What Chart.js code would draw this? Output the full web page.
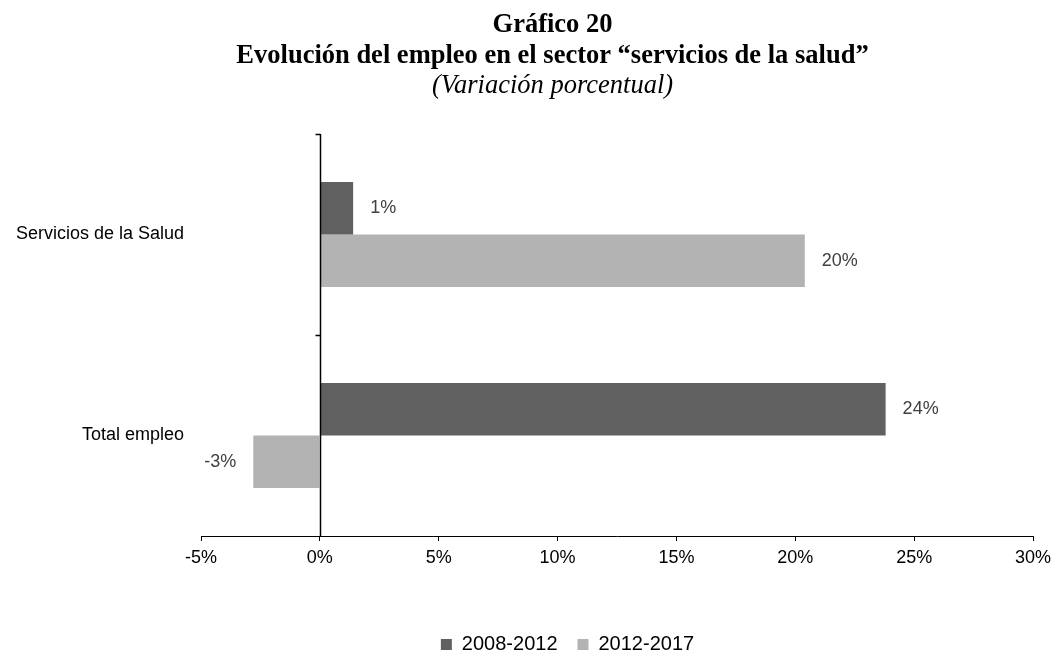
<!DOCTYPE html>
<html>
<head>
<meta charset="utf-8">
<script src="https://cdn.jsdelivr.net/npm/chart.js@4/dist/chart.umd.min.js"></script>
<style>
  html, body { margin: 0; padding: 0; background: #fff; }
  #wrap { width: 1053px; height: 651px; }
</style>
</head>
<body>
<div id="wrap"><canvas id="chart" width="1053" height="651"></canvas></div>
<script>
const categories = ['Servicios de la Salud', 'Total empleo'];
const seriesNames = ['2008-2012', '2012-2017'];
const values0812 = [1.4, 23.8];
const values1217 = [20.4, -2.8];
const xTickValues = [-5, 0, 5, 10, 15, 20, 25, 30];

const titleLines = ['Gráfico 20', 'Evolución del empleo en el sector “servicios de la salud”'];
const subtitleText = '(Variación porcentual)';

Chart.defaults.font.family = "Arial, 'Liberation Sans', sans-serif";
Chart.defaults.color = '#000';

// zero line with small ticks between categories
const zeroAxis = {
  id: 'zeroAxis',
  afterDatasetsDraw(chart) {
    const { ctx, chartArea, scales: { x, y } } = chart;
    const x0 = Math.round(x.getPixelForValue(0)) + 0.5;
    ctx.save();
    ctx.strokeStyle = '#000';
    ctx.lineWidth = 1.5;
    ctx.beginPath();
    ctx.moveTo(x0, chartArea.top);
    ctx.lineTo(x0, chartArea.bottom);
    for (let i = 0; i < categories.length; i++) {
      const yb = Math.round(y.getPixelForValue(i - 0.5)) + 0.5;
      ctx.moveTo(x0 - 5, yb);
      ctx.lineTo(x0, yb);
    }
    ctx.stroke();
    ctx.restore();
  }
};

// value labels next to each bar end
const barLabels = {
  id: 'barLabels',
  afterDatasetsDraw(chart) {
    const { ctx } = chart;
    ctx.save();
    ctx.font = "18px Arial, 'Liberation Sans', sans-serif";
    ctx.fillStyle = '#404040';
    ctx.textBaseline = 'middle';
    chart.data.datasets.forEach((ds, di) => {
      chart.getDatasetMeta(di).data.forEach((el, i) => {
        const v = ds.data[i];
        const txt = Math.round(v) + '%';
        if (v >= 0) {
          ctx.textAlign = 'left';
          ctx.fillText(txt, el.x + 17, el.y);
        } else {
          ctx.textAlign = 'right';
          ctx.fillText(txt, el.x - 17, el.y);
        }
      });
    });
    ctx.restore();
  }
};

// the original centres title and legend a bit right of the page centre
const shiftBoxes = {
  id: 'shiftBoxes',
  afterLayout(chart) {
    chart.boxes.forEach(box => {
      let dx = 0;
      if (box === chart.legend) dx = 45;
      else if (box.options && (box.options.text === titleLines || box.options.text === subtitleText)) dx = 30;
      box.left += dx;
      box.right += dx;
    });
  }
};

new Chart(document.getElementById('chart'), {
  type: 'bar',
  data: {
    labels: categories,
    datasets: [
      { label: seriesNames[0], data: values0812, backgroundColor: '#606060' },
      { label: seriesNames[1], data: values1217, backgroundColor: '#b3b3b3' }
    ]
  },
  options: {
    indexAxis: 'y',
    responsive: false,
    animation: false,
    categoryPercentage: 0.522,
    barPercentage: 1,
    layout: { padding: { left: 12, right: 20, top: 0, bottom: -13.5 } },
    plugins: {
      title: {
        display: true,
        text: titleLines,
        color: '#000',
        font: { family: "'Liberation Serif', 'Times New Roman', serif", size: 26.5, weight: 'bold', lineHeight: 1.15 },
        padding: { top: 10, bottom: 0 }
      },
      subtitle: {
        display: true,
        text: subtitleText,
        color: '#000',
        font: { family: "'Liberation Serif', 'Times New Roman', serif", size: 26.5, style: 'italic', lineHeight: 1.15 },
        padding: { top: 0, bottom: 32.6 }
      },
      legend: {
        position: 'bottom',
        labels: {
          boxWidth: 11,
          boxHeight: 11,
          padding: 20,
          color: '#000',
          font: { size: 20 }
        }
      },
      tooltip: { enabled: false }
    },
    scales: {
      x: {
        min: -5,
        max: 30,
        afterFit: s => { s.height = 78.5; s.paddingRight = 0; },
        afterBuildTicks: s => { s.ticks = xTickValues.map(v => ({ value: v })); },
        grid: { display: true, drawOnChartArea: false, drawTicks: true, tickLength: 5, color: '#000' },
        border: { display: true, color: '#000', width: 1 },
        ticks: { callback: v => v + '%', font: { size: 18 }, color: '#000', padding: 6, maxRotation: 0 }
      },
      y: {
        afterFit: s => { s.width = 189; },
        grid: { display: false, drawTicks: false },
        border: { display: false },
        ticks: { font: { size: 18 }, color: '#000', padding: 17 }
      }
    }
  },
  plugins: [zeroAxis, barLabels, shiftBoxes]
});
</script>
</body>
</html>
